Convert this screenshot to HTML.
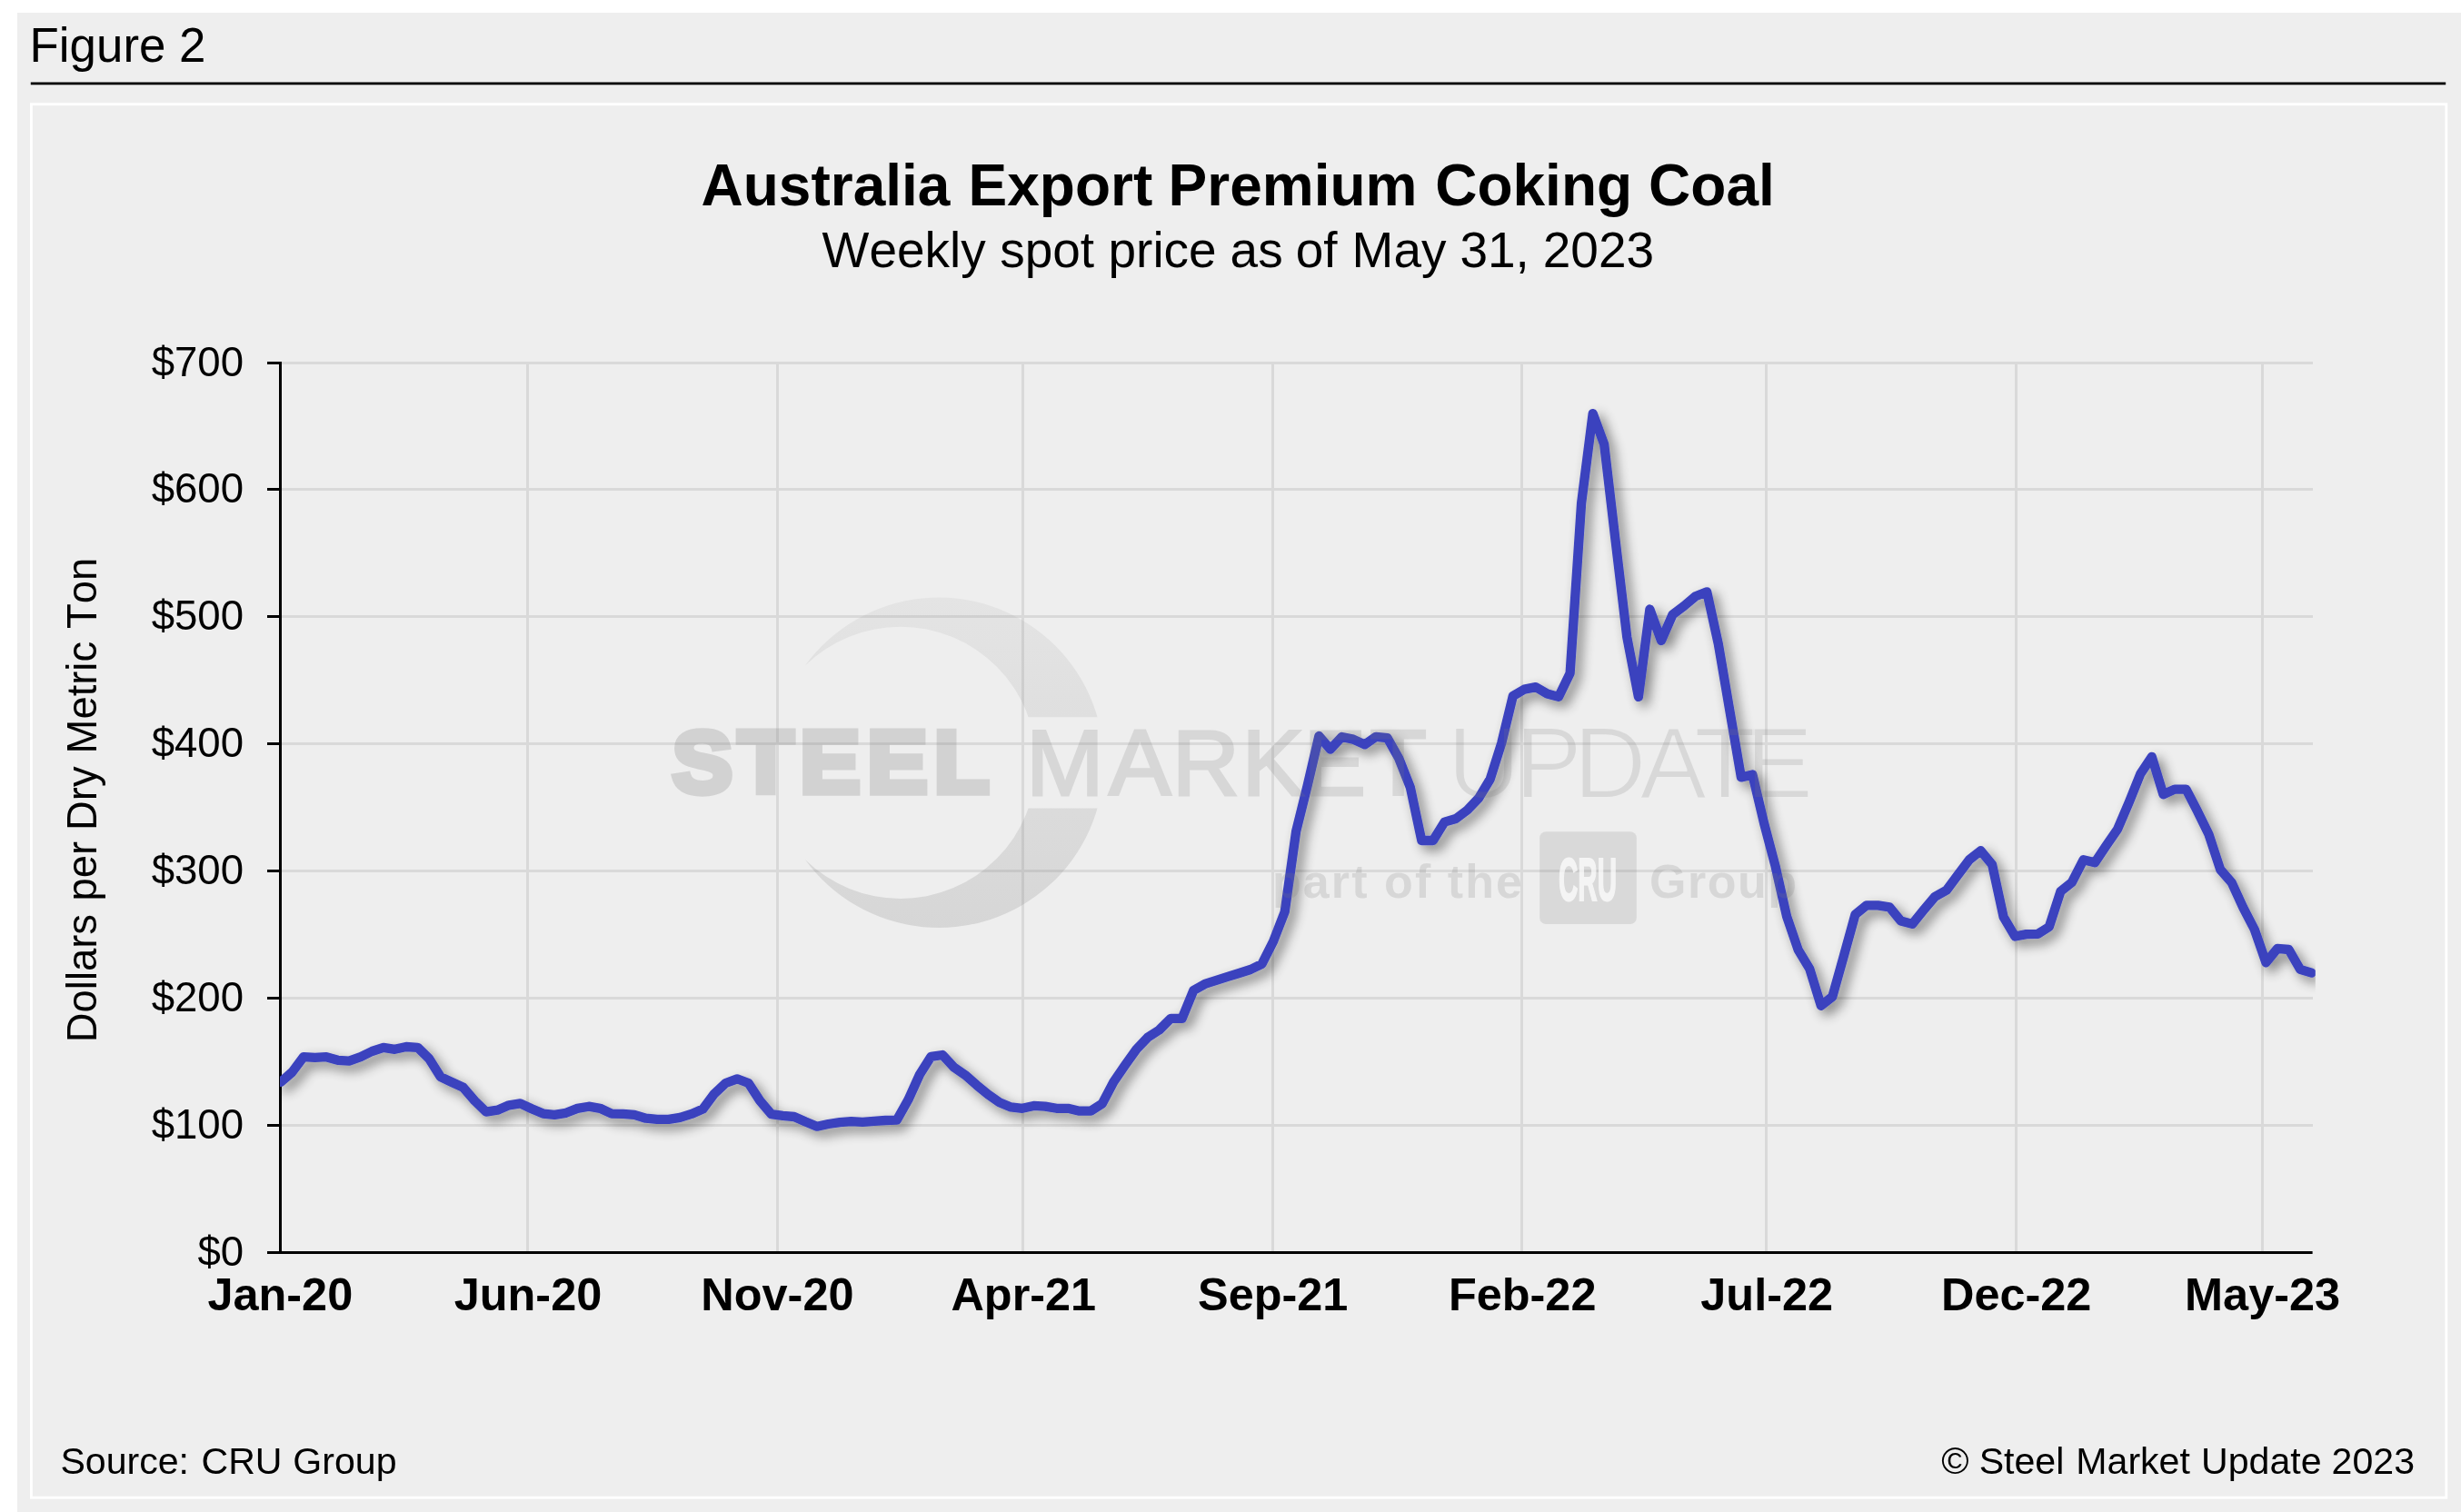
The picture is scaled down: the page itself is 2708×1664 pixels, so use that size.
<!DOCTYPE html>
<html lang="en"><head><meta charset="utf-8"><title>Figure 2 - Australia Export Premium Coking Coal</title>
<style>
html,body{margin:0;padding:0;background:#fff;}
body{width:2708px;height:1664px;overflow:hidden;position:relative;}
svg{position:absolute;left:0;top:0;display:block;will-change:transform;}
text{font-family:"Liberation Sans",Arial,Helvetica,sans-serif;fill:#000;font-kerning:none;}
.b{font-weight:bold;}
</style></head><body>
<svg width="2708" height="1664" viewBox="0 0 2708 1664">
<defs>
<linearGradient id="wg" x1="0" y1="0" x2="0" y2="1"><stop offset="0" stop-color="#7c7c7c" stop-opacity="0.088"/><stop offset="1" stop-color="#7c7c7c" stop-opacity="0.209"/></linearGradient>
<filter id="thin" x="-2%" y="-10%" width="104%" height="120%"><feMorphology operator="erode" radius="1.2"/></filter>
<clipPath id="cres"><rect x="840" y="640" width="400" height="149.3"/><rect x="840" y="889.6" width="400" height="150"/></clipPath>
<clipPath id="plot"><rect x="308" y="380" width="2239.8" height="1010"/></clipPath>
<filter id="sh" x="-2%" y="-5%" width="104%" height="110%"><feGaussianBlur in="SourceAlpha" stdDeviation="6.3"/><feOffset dx="6" dy="6"/><feComponentTransfer><feFuncA type="linear" slope="0.46"/></feComponentTransfer><feMerge><feMergeNode/><feMergeNode in="SourceGraphic"/></feMerge></filter>
</defs>
<rect x="0" y="0" width="2708" height="1664" fill="#ffffff"/>
<rect x="19" y="14" width="2689" height="1650" fill="#eeeeee"/>
<text x="32.6" y="68" font-size="52.85">Figure 2</text>
<rect x="33.8" y="90.5" width="2657.4" height="2.8" fill="#000"/>
<rect x="34.4" y="114.7" width="2657.4" height="1533.5" fill="none" stroke="#ffffff" stroke-width="2.9"/>
<text class="b" y="226.2" font-size="64" xml:space="preserve"><tspan x="771.5">Australia </tspan><tspan x="1065.5">Export </tspan><tspan x="1285.6">Premium </tspan><tspan x="1579.2">Coking </tspan><tspan x="1814.1">Coal</tspan></text>
<text y="293.9" font-size="54.98" xml:space="preserve"><tspan x="904.6">Weekly </tspan><tspan x="1100.2">spot </tspan><tspan x="1219.5">price </tspan><tspan x="1353.6">as </tspan><tspan x="1425.8">of </tspan><tspan x="1487.6">May </tspan><tspan x="1606.4">31, </tspan><tspan x="1697.8">2023</tspan></text>
<g id="grid" fill="#d9d9d9" shape-rendering="crispEdges">
<rect x="310" y="1237" width="2234.5" height="3"/>
<rect x="310" y="1097" width="2234.5" height="3"/>
<rect x="310" y="957" width="2234.5" height="3"/>
<rect x="310" y="817" width="2234.5" height="3"/>
<rect x="310" y="677" width="2234.5" height="3"/>
<rect x="310" y="537" width="2234.5" height="3"/>
<rect x="310" y="398" width="2234.5" height="3"/>
<rect x="579" y="398" width="3" height="979"/>
<rect x="854" y="398" width="3" height="979"/>
<rect x="1124" y="398" width="3" height="979"/>
<rect x="1399" y="398" width="3" height="979"/>
<rect x="1673" y="398" width="3" height="979"/>
<rect x="1942" y="398" width="3" height="979"/>
<rect x="2217" y="398" width="3" height="979"/>
<rect x="2488" y="398" width="3" height="979"/>
</g>
<g id="axes" fill="#000">
<rect x="307" y="398" width="3" height="982"/>
<rect x="294" y="1377" width="2250.6" height="3"/>
<rect x="294" y="1237" width="13.5" height="3"/>
<rect x="294" y="1097" width="13.5" height="3"/>
<rect x="294" y="957" width="13.5" height="3"/>
<rect x="294" y="817" width="13.5" height="3"/>
<rect x="294" y="677" width="13.5" height="3"/>
<rect x="294" y="537" width="13.5" height="3"/>
<rect x="294" y="398" width="13.5" height="3"/>
</g>
<g id="ylabels" font-size="45.6" text-anchor="end">
<text x="268.1" y="1392.7">$0</text>
<text x="268.1" y="1252.7">$100</text>
<text x="268.1" y="1112.7">$200</text>
<text x="268.1" y="972.7">$300</text>
<text x="268.1" y="832.7">$400</text>
<text x="268.1" y="692.7">$500</text>
<text x="268.1" y="552.7">$600</text>
<text x="268.1" y="413.7">$700</text>
</g>
<g id="xlabels" class="b" font-size="50.45" text-anchor="middle">
<text x="308.3" y="1441.8">Jan-20</text>
<text x="581.0" y="1441.8">Jun-20</text>
<text x="855.4" y="1441.8">Nov-20</text>
<text x="1126.3" y="1441.8">Apr-21</text>
<text x="1400.7" y="1441.8">Sep-21</text>
<text x="1675.2" y="1441.8">Feb-22</text>
<text x="1944.2" y="1441.8">Jul-22</text>
<text x="2218.7" y="1441.8">Dec-22</text>
<text x="2489.6" y="1441.8">May-23</text>
</g>
<text font-size="45.4" xml:space="preserve" transform="translate(105.9 1144.3) rotate(-90)"><tspan x="-2.9">Dollars </tspan><tspan x="152.7">per </tspan><tspan x="230.3">Dry </tspan><tspan x="314.9">Metric </tspan><tspan x="452.4">Ton</tspan></text>
<text y="1622.1" font-size="41.1" xml:space="preserve"><tspan x="66.4">Source: </tspan><tspan x="221.5">CRU </tspan><tspan x="322.3">Group</tspan></text>
<text y="1621.7" font-size="41.1" xml:space="preserve"><tspan x="2136.3">© </tspan><tspan x="2177.7">Steel </tspan><tspan x="2284.3">Market </tspan><tspan x="2422.0">Update </tspan><tspan x="2565.6">2023</tspan></text>
<g clip-path="url(#plot)"><path id="series" d="M308.9,1190.8 L321.4,1180.0 L334.0,1163.2 L346.6,1163.9 L359.1,1163.2 L371.7,1166.8 L384.2,1167.7 L396.8,1163.2 L409.3,1157.0 L421.9,1152.9 L434.4,1154.8 L447.0,1152.0 L459.6,1152.8 L472.1,1165.0 L484.7,1185.1 L497.2,1191.0 L509.8,1196.8 L522.3,1211.4 L534.9,1223.6 L547.4,1221.7 L560.0,1216.3 L572.5,1214.4 L585.1,1220.2 L597.6,1225.6 L610.2,1226.8 L622.8,1224.8 L635.3,1219.9 L647.9,1217.7 L660.4,1219.8 L673.0,1225.6 L685.5,1225.8 L698.1,1226.9 L710.6,1230.7 L723.2,1231.9 L735.8,1231.9 L748.3,1229.9 L760.9,1225.9 L773.4,1220.6 L786.0,1203.7 L798.5,1192.0 L811.1,1187.3 L823.6,1192.0 L836.2,1211.4 L848.7,1226.1 L861.3,1227.8 L873.9,1229.0 L886.4,1234.5 L899.0,1239.7 L911.5,1237.0 L924.1,1235.1 L936.6,1234.2 L949.2,1234.8 L961.7,1233.8 L974.3,1233.0 L986.8,1232.7 L999.4,1210.3 L1012.0,1182.5 L1024.5,1162.8 L1037.1,1161.0 L1049.6,1174.5 L1062.2,1183.2 L1074.7,1194.2 L1087.3,1204.5 L1099.8,1213.2 L1112.4,1218.4 L1124.9,1219.8 L1137.5,1216.9 L1150.0,1217.6 L1162.6,1219.8 L1175.2,1219.8 L1187.7,1222.7 L1200.3,1222.7 L1212.8,1214.7 L1225.4,1190.6 L1237.9,1172.3 L1250.5,1154.7 L1263.0,1141.6 L1275.6,1133.5 L1288.2,1120.8 L1300.7,1120.8 L1313.3,1090.0 L1325.8,1082.9 L1338.4,1078.8 L1350.9,1074.8 L1363.5,1071.0 L1376.0,1067.0 L1388.6,1060.8 L1401.1,1036.0 L1413.7,1003.5 L1426.2,914.7 L1438.8,864.1 L1451.4,810.0 L1463.9,824.6 L1476.5,811.0 L1489.0,813.6 L1501.6,819.4 L1514.1,810.8 L1526.7,812.2 L1539.2,834.5 L1551.8,866.3 L1564.3,925.0 L1576.9,925.0 L1589.5,904.6 L1602.0,901.0 L1614.6,891.5 L1627.1,878.4 L1639.7,857.5 L1652.2,818.0 L1664.8,766.0 L1677.3,758.6 L1689.9,756.1 L1702.5,763.5 L1715.0,766.9 L1727.6,741.0 L1740.1,553.8 L1752.7,455.1 L1765.2,489.0 L1777.8,596.7 L1790.3,701.4 L1802.9,766.9 L1815.4,670.5 L1828.0,705.0 L1840.5,676.4 L1853.1,666.9 L1865.7,656.2 L1878.2,651.3 L1890.8,708.6 L1903.3,781.8 L1915.9,855.4 L1928.4,852.5 L1941.0,905.6 L1953.5,953.0 L1966.1,1008.6 L1978.7,1045.3 L1991.2,1066.1 L2003.8,1106.8 L2016.3,1096.9 L2028.9,1051.8 L2041.4,1006.6 L2054.0,996.3 L2066.5,996.3 L2079.1,998.3 L2091.6,1013.5 L2104.2,1016.9 L2116.7,1001.6 L2129.3,986.7 L2141.8,979.8 L2154.4,962.9 L2167.0,946.1 L2179.5,936.2 L2192.1,951.5 L2204.6,1009.2 L2217.2,1030.5 L2229.7,1028.1 L2242.3,1027.9 L2254.8,1020.0 L2267.4,981.1 L2279.9,970.9 L2292.5,946.3 L2305.1,949.3 L2317.6,930.7 L2330.2,912.3 L2342.7,882.9 L2355.3,851.6 L2367.8,832.9 L2380.4,874.3 L2392.9,868.6 L2405.5,868.6 L2418.1,892.9 L2430.6,918.6 L2443.2,957.0 L2455.7,971.3 L2468.3,998.9 L2480.8,1023.0 L2493.4,1059.3 L2505.9,1043.9 L2518.5,1045.0 L2531.0,1066.8 L2543.6,1070.7" fill="none" stroke="#3a42be" stroke-width="10.3" stroke-linejoin="round" stroke-linecap="round" filter="url(#sh)"/></g>
<g id="watermark">
<g clip-path="url(#cres)"><path fill="url(#wg)" d="M885.9,732.6 A181.7,181.7 0 1,1 885.9,946.0 A149.6,149.6 0 1,0 885.9,732.6 Z"/></g>
<g opacity="0.24" transform="scale(1.03,1)"><text x="718.25 788.54 854.56 926.41 997.82" y="872.4" font-size="96.5" font-weight="bold" style="fill:#7c7c7c;stroke:#7c7c7c;stroke-width:7.3px;stroke-linejoin:miter">STEEL</text></g>
<g opacity="0.198"><text x="1129.0 1220.1 1289.7 1366.55 1434.6 1507.35" y="875.4" font-size="102.8" style="fill:#7c7c7c;stroke:#7c7c7c;stroke-width:2.8px">MARKET</text></g>
<g opacity="0.184" filter="url(#thin)"><text x="1592.85 1666.9 1731.55 1804.2 1864.35 1921.05" y="877.8" font-size="110.8" style="fill:#7c7c7c">UPDATE</text></g>
<g opacity="0.192"><text class="b" x="1400" y="988.3" font-size="52" style="fill:#7c7c7c" textLength="275" lengthAdjust="spacing">part of the</text>
<text class="b" x="1815" y="988.3" font-size="52" style="fill:#7c7c7c" textLength="162" lengthAdjust="spacing">Group</text></g>
<rect x="1694.2" y="915.3" width="106.6" height="101.7" rx="7" ry="7" fill="#7c7c7c" fill-opacity="0.184"/>
<g opacity="0.72"><text class="b" x="1715" y="990.5" font-size="67" style="fill:#fff;stroke:#fff;stroke-width:2px" textLength="64" lengthAdjust="spacingAndGlyphs">CRU</text></g>
</g>
</svg>
</body></html>
